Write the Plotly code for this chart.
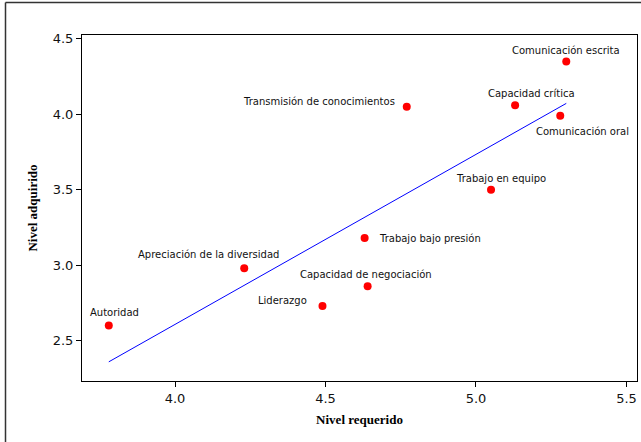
import numpy as np
import plotly.graph_objects as go

# ---- data ----
competencias = [
    "Comunicación escrita", "Capacidad crítica", "Transmisión de conocimientos",
    "Comunicación oral", "Trabajo en equipo", "Trabajo bajo presión",
    "Capacidad de negociación", "Liderazgo", "Apreciación de la diversidad", "Autoridad",
]
nivel_requerido = [5.30, 5.13, 4.77, 5.28, 5.05, 4.63, 4.64, 4.49, 4.23, 3.78]
nivel_adquirido = [4.35, 4.06, 4.05, 3.99, 3.50, 3.18, 2.86, 2.73, 2.98, 2.60]
x_ticks = [4.0, 4.5, 5.0, 5.5]
y_ticks = [2.5, 3.0, 3.5, 4.0, 4.5]

# ---- label placement (style) ----
label_pos = [
    ("center", 0, 11), ("center", 16, 12), ("right", -10, 5),
    ("center", 22, -16), ("center", 10, 11), ("left", 12, 0),
    ("center", -2, 12), ("right", -13, 5), ("center", -36, 14), ("center", 6, 13),
]

# regression line
xr = np.array(nivel_requerido)
ya = np.array(nivel_adquirido)
b, a = np.polyfit(xr, ya, 1)
xl = np.array([xr.min(), xr.max()])
yl = a + b * xl

fig = go.Figure()
fig.add_trace(go.Scatter(x=xl, y=yl, mode="lines",
                         line=dict(color="#0000FF", width=1), hoverinfo="skip"))
fig.add_trace(go.Scatter(x=nivel_requerido, y=nivel_adquirido, mode="markers",
                         marker=dict(color="#FF0000", size=8), text=competencias))

for name, xv, yv, (anc, dx, dy) in zip(competencias, nivel_requerido, nivel_adquirido, label_pos):
    fig.add_annotation(x=xv, y=yv, text=name, showarrow=False, xanchor=anc, yanchor="middle",
                       xshift=dx, yshift=dy,
                       font=dict(family="DejaVu Sans", size=10, color="#111111"))

L, R, T, B = 82, 4, 35, 61
W, H = 641, 442
pw, ph = W - L - R, H - T - B
fx = lambda px: (px - L) / pw
fy = lambda py: (H - B - py) / ph
fig.add_shape(type="line", xref="paper", yref="paper", x0=fx(5.5), x1=fx(5.5),
              y0=fy(445), y1=fy(2.5), line=dict(color="#333333", width=1.5))
fig.add_shape(type="line", xref="paper", yref="paper", x0=fx(5.5), x1=fx(645),
              y0=fy(2.5), y1=fy(2.5), line=dict(color="#333333", width=1.5))

axis_common = dict(showgrid=False, zeroline=False, showline=True, linecolor="black",
                   linewidth=1, mirror=True, ticks="outside", ticklen=5, tickcolor="black",
                   tickfont=dict(family="DejaVu Sans", size=13, color="#111111"))
fig.update_xaxes(range=[3.691, 5.535], tickvals=x_ticks, ticktext=[f"{v:.1f}" for v in x_ticks],
                 title=dict(text="<b>Nivel requerido</b>",
                            font=dict(family="Liberation Serif", size=13, color="black"), standoff=10),
                 **axis_common)
fig.update_yaxes(range=[2.232, 4.526], tickvals=y_ticks, ticktext=[f"{v:.1f}" for v in y_ticks],
                 title=dict(text="<b>Nivel adquirido</b>",
                            font=dict(family="Liberation Serif", size=13, color="black"), standoff=12),
                 **axis_common)
fig.update_layout(width=W, height=H, margin=dict(l=L, r=R, t=T, b=B),
                  plot_bgcolor="white", paper_bgcolor="white", showlegend=False)
fig.write_html("out.html", config={"displayModeBar": False},
               post_script="document.body.style.margin='0';document.body.style.overflow='hidden';")
